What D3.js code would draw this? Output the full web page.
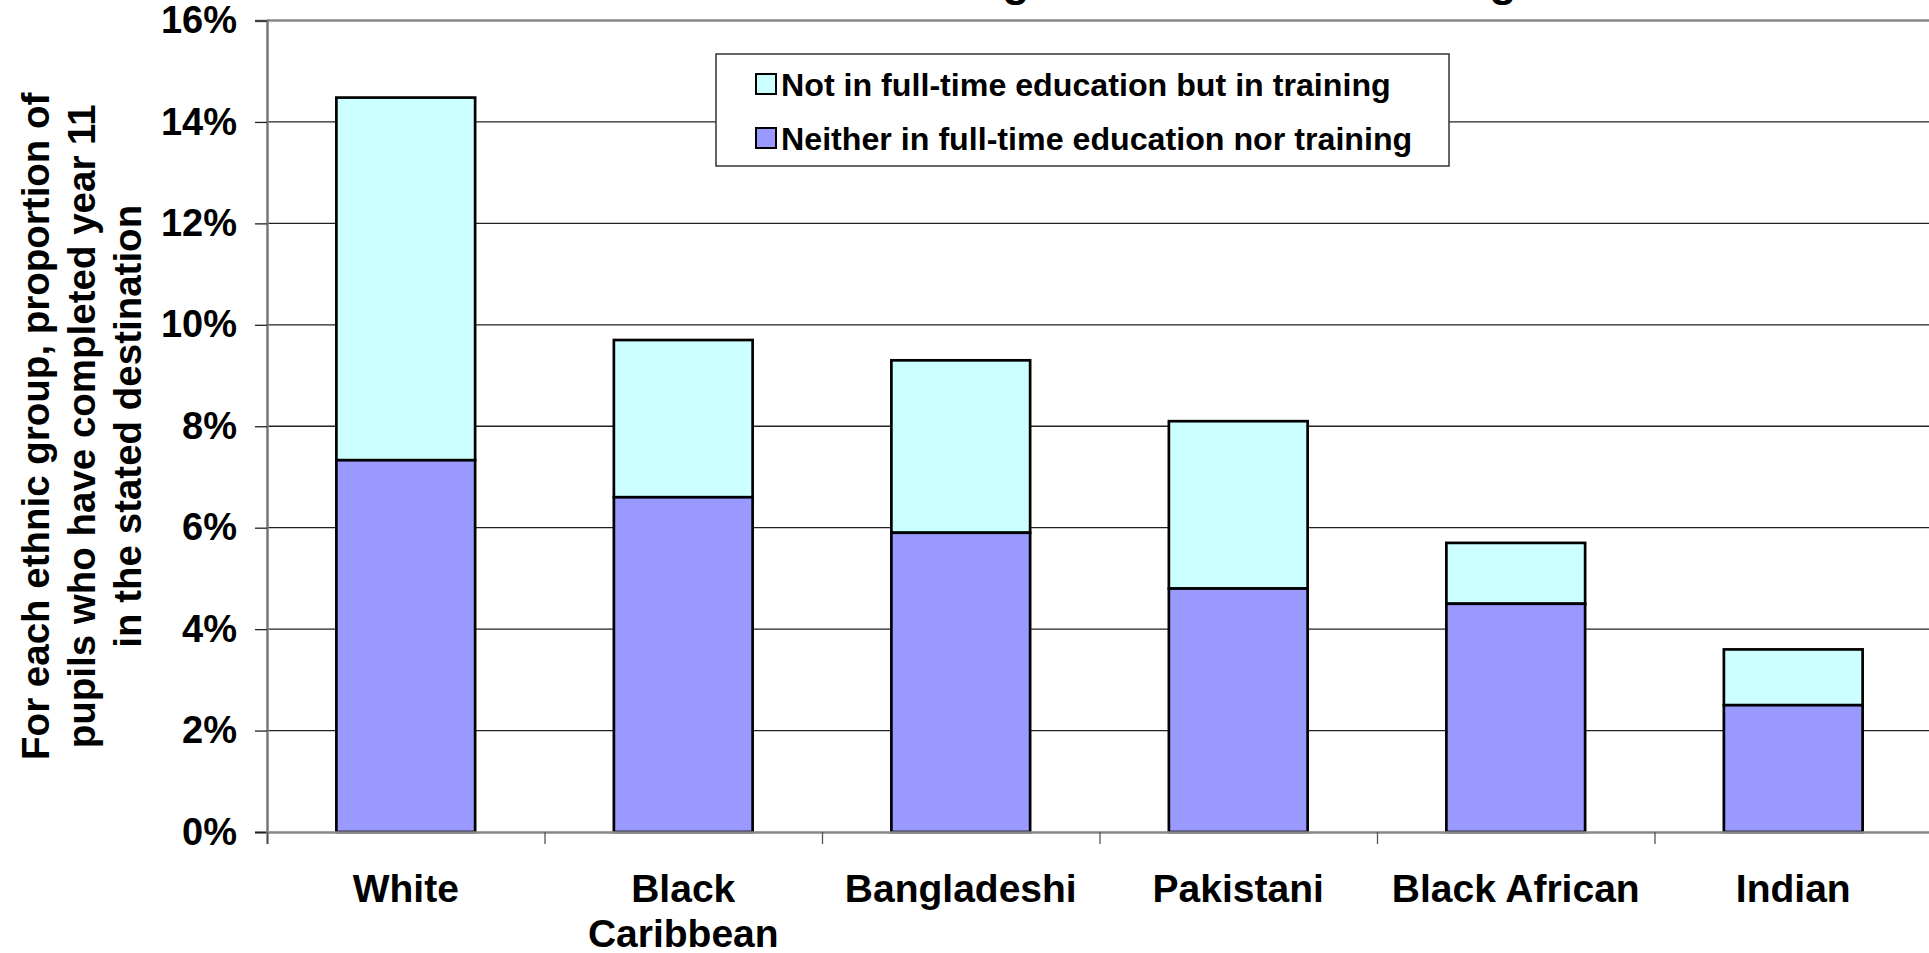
<!DOCTYPE html>
<html>
<head>
<meta charset="utf-8">
<script src="https://cdn.jsdelivr.net/npm/d3@7"></script>
<style>
  body { margin: 0; background: #fff; }
  svg { display: block; font-family: "Liberation Sans", Arial, sans-serif; font-weight: bold; }
</style>
</head>
<body>
<div id="chart"></div>
<script>
// data
var categories = ["White", "Black Caribbean", "Bangladeshi", "Pakistani", "Black African", "Indian"];
var neitherValues = [7.33, 6.6, 5.9, 4.8, 4.5, 2.5];   // Neither in full-time education nor training
var trainingValues = [7.15, 3.1, 3.4, 3.3, 1.2, 1.1];  // Not in full-time education but in training
var seriesNames = ["Not in full-time education but in training", "Neither in full-time education nor training"];
var seriesColors = ["#CCFFFF", "#9999FF"];
var yTicks = [0, 2, 4, 6, 8, 10, 12, 14, 16];
var yTitleLines = ["For each ethnic group, proportion of", "pupils who have completed year 11", "in the stated destination"];
var titleText = "Leaving education and training at 16";

var width = 1929, height = 953;
var margin = {top: 20.5, left: 267, right: -3, bottom: 121};

var svg = d3.select("#chart").append("svg")
    .attr("width", width)
    .attr("height", height);

var plotW = width - margin.left - margin.right,
    plotH = height - margin.top - margin.bottom;

var x = d3.scaleBand()
    .domain(categories)
    .range([margin.left, margin.left + plotW])
    .paddingInner(0.5)
    .paddingOuter(0.25);

var xEdges = d3.scaleLinear()
    .domain([0, categories.length])
    .range([margin.left, margin.left + plotW]);

var y = d3.scaleLinear()
    .domain([0, 16])
    .range([margin.top + plotH, margin.top]);

// gridlines
svg.append("g")
    .selectAll("line")
    .data(yTicks.filter(function (d) { return d > 0 && d < 16; }))
    .enter().append("line")
    .attr("x1", margin.left)
    .attr("x2", margin.left + plotW)
    .attr("y1", function (d) { return y(d); })
    .attr("y2", function (d) { return y(d); })
    .attr("stroke", "#222")
    .attr("stroke-width", 1.3);

// top border of plot area
svg.append("line")
    .attr("x1", margin.left).attr("x2", margin.left + plotW)
    .attr("y1", y(16)).attr("y2", y(16))
    .attr("stroke", "#888").attr("stroke-width", 2.5);

// stacked bars
var stacked = categories.map(function (c, i) {
    return {cat: c, neither: neitherValues[i], training: trainingValues[i]};
});

var bars = svg.append("g").selectAll("g")
    .data(stacked)
    .enter().append("g");

bars.append("rect")
    .attr("x", function (d) { return x(d.cat); })
    .attr("width", x.bandwidth())
    .attr("y", function (d) { return y(d.neither + d.training); })
    .attr("height", function (d) { return y(d.neither) - y(d.neither + d.training); })
    .attr("fill", seriesColors[0])
    .attr("stroke", "#000")
    .attr("stroke-width", 2.7);

bars.append("rect")
    .attr("x", function (d) { return x(d.cat); })
    .attr("width", x.bandwidth())
    .attr("y", function (d) { return y(d.neither); })
    .attr("height", function (d) { return y(0) - y(d.neither); })
    .attr("fill", seriesColors[1])
    .attr("stroke", "#000")
    .attr("stroke-width", 2.7);

// y axis
var yAxis = svg.append("g")
    .attr("transform", "translate(" + margin.left + ",0)")
    .call(d3.axisLeft(y).tickValues(yTicks).tickSize(12).tickPadding(18)
        .tickFormat(function (d) { return d + "%"; }));
yAxis.select(".domain").attr("stroke", "#777").attr("stroke-width", 2.5);
yAxis.selectAll(".tick line").attr("stroke", "#222").attr("stroke-width", 1.3);
yAxis.selectAll("text")
    .attr("font-size", 38)
    .attr("font-family", "Liberation Sans, Arial, sans-serif")
    .attr("font-weight", "bold")
    .attr("fill", "#000");

// x axis: ticks at category boundaries
var xAxis = svg.append("g")
    .attr("transform", "translate(0," + y(0) + ")")
    .call(d3.axisBottom(xEdges).tickValues(d3.range(0, categories.length + 1)).tickSize(12).tickFormat(""));
xAxis.select(".domain").attr("stroke", "#888").attr("stroke-width", 2.5);
xAxis.selectAll(".tick line").attr("stroke", "#555").attr("stroke-width", 1.3);

// category labels, wrapped to match
var labels = svg.append("g").selectAll("text")
    .data(categories)
    .enter().append("text")
    .attr("text-anchor", "middle")
    .attr("font-size", 39)
    .attr("fill", "#000");

labels.each(function (d) {
    var t = d3.select(this);
    var cx = x(d) + x.bandwidth() / 2;
    var parts = d === "Black Caribbean" ? ["Black", "Caribbean"] : [d];
    parts.forEach(function (p, k) {
        t.append("tspan").attr("x", cx).attr("y", 902 + k * 45).text(p);
    });
});

// y axis title
var yTitle = svg.append("text")
    .attr("transform", "translate(95," + (margin.top + plotH / 2) + ") rotate(-90)")
    .attr("text-anchor", "middle")
    .attr("font-size", 38.5)
    .attr("fill", "#000");
yTitleLines.forEach(function (line, k) {
    yTitle.append("tspan").attr("x", 0).attr("dy", k === 0 ? "-1.2em" : "1.2em").text(line);
});

// legend
var legend = svg.append("g").attr("transform", "translate(716,54)");
legend.append("rect")
    .attr("width", 733).attr("height", 112)
    .attr("fill", "#fff").attr("stroke", "#333").attr("stroke-width", 1.5);
var items = legend.selectAll(".item")
    .data(seriesNames)
    .enter().append("g")
    .attr("class", "item")
    .attr("transform", function (d, i) { return "translate(40," + (20 + i * 54) + ")"; });
items.append("rect")
    .attr("width", 20).attr("height", 20)
    .attr("fill", function (d, i) { return seriesColors[i]; })
    .attr("stroke", "#000").attr("stroke-width", 2);
items.append("text")
    .attr("x", 25).attr("y", 10).attr("dy", "0.36em")
    .attr("font-size", 32.2)
    .attr("fill", "#000")
    .text(function (d) { return d; });

// title, mostly cut off by the top edge: only the 'g' descenders show
var title = svg.append("text")
    .attr("font-size", 46)
    .attr("y", -4)
    .attr("fill", "#000")
    .text(titleText);
var node = title.node();
var g1 = titleText.indexOf("g"), g2 = titleText.lastIndexOf("g");
var d12 = node.getSubStringLength(0, g2) - node.getSubStringLength(0, g1);
var fs = 46 * 487 / d12;
title.attr("font-size", fs);
var gw = node.getSubStringLength(g1, 1);
title.attr("x", 1016 - gw / 2 - node.getSubStringLength(0, g1));
</script>
</body>
</html>
